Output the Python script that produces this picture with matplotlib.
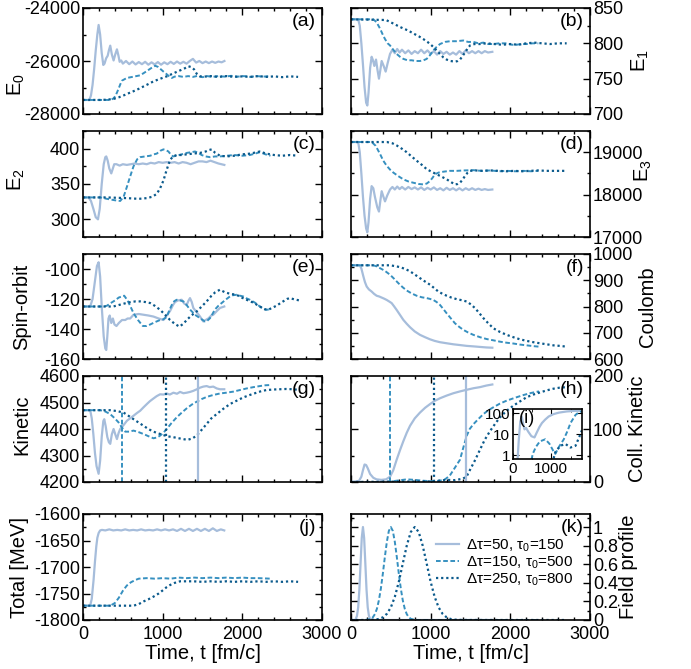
import matplotlib
matplotlib.use("Agg")
import matplotlib.pyplot as plt
from matplotlib.ticker import MultipleLocator, FormatStrFormatter, FuncFormatter, NullLocator

plt.rcParams["font.family"] = ["Liberation Sans", "DejaVu Sans"]
plt.rcParams["mathtext.fontset"] = "custom"
plt.rcParams["mathtext.rm"] = "Liberation Sans"
plt.rcParams["mathtext.it"] = "Liberation Sans:italic"
plt.rcParams["mathtext.default"] = "regular"
plt.rcParams["axes.unicode_minus"] = False

# ---- data (time in fm/c, value) ----
labels = ["Δτ=50, τ$_0$=150", "Δτ=150, τ$_0$=500", "Δτ=250, τ$_0$=800"]
t_markers = [1440, 490, 1045]  # solid, dashed, dotted vertical lines in (g), (h)

a_solid = [(0, -27470), (80, -27470), (100, -27300), (120, -26900), (140, -26300), (160, -25600),
           (180, -25000), (196, -24640), (215, -25000), (235, -25700), (255, -26150), (270, -26100),
           (290, -25900), (310, -25800), (325, -25600), (342, -25420), (362, -25750), (384, -25980),
           (405, -25750), (426, -25560), (445, -25800), (460, -26030), (480, -25980), (500, -26100),
           (540, -26000), (580, -26120), (620, -26020), (660, -26130), (700, -26040), (740, -26120),
           (780, -26030), (820, -26140), (860, -26050), (900, -26130), (940, -26040), (980, -26140),
           (1020, -26050), (1060, -26120), (1100, -26030), (1140, -26110), (1180, -26020), (1220, -26100),
           (1260, -26030), (1300, -26100), (1340, -26000), (1380, -25920), (1420, -26060), (1460, -26000),
           (1500, -26080), (1540, -26020), (1580, -26080), (1620, -26020), (1660, -26070), (1700, -26020),
           (1740, -26050), (1775, -26000)]
a_dash = [(0, -27470), (340, -27470), (380, -27420), (405, -27330), (425, -27200), (446, -27050),
          (468, -26880), (490, -26740), (550, -26640), (620, -26600), (718, -26540), (760, -26460),
          (801, -26380), (850, -26280), (905, -26180), (940, -26220), (968, -26290), (1010, -26400),
          (1051, -26500), (1090, -26600), (1114, -26640), (1150, -26590), (1200, -26570), (1260, -26600),
          (1320, -26570), (1380, -26600), (1440, -26560), (1500, -26610), (1560, -26570), (1620, -26600),
          (1700, -26570), (1780, -26590), (1860, -26560), (1940, -26590), (2020, -26570), (2100, -26600),
          (2180, -26570), (2260, -26590), (2353, -26570)]
a_dot = [(0, -27470), (220, -27470), (300, -27460), (384, -27430), (450, -27370), (509, -27300),
         (570, -27220), (634, -27140), (700, -27050), (760, -26960), (820, -26870), (884, -26770),
         (960, -26680), (1051, -26580), (1110, -26500), (1176, -26410), (1230, -26340), (1281, -26270),
         (1323, -26200), (1360, -26230), (1395, -26320), (1427, -26480), (1469, -26580), (1520, -26590),
         (1600, -26570), (1700, -26600), (1800, -26570), (1900, -26600), (2000, -26580), (2100, -26600),
         (2200, -26570), (2300, -26600), (2400, -26580), (2500, -26610), (2600, -26580), (2700, -26600)]

b_solid = [(0, 834), (90, 834), (110, 825), (130, 800), (150, 770), (170, 738), (190, 716), (205, 712),
           (220, 730), (240, 765), (259, 781), (276, 776), (293, 768), (314, 777), (333, 762), (351, 750),
           (368, 762), (385, 775), (410, 768), (435, 760), (460, 772), (490, 785), (520, 791), (550, 786),
           (580, 792), (610, 787), (640, 791), (680, 786), (720, 790), (760, 785), (800, 789), (840, 786),
           (880, 791), (920, 786), (960, 790), (1000, 785), (1040, 789), (1080, 784), (1120, 789),
           (1160, 785), (1200, 788), (1240, 784), (1280, 787), (1320, 784), (1360, 789), (1400, 785),
           (1440, 790), (1480, 786), (1520, 789), (1560, 786), (1600, 789), (1640, 786), (1680, 789),
           (1720, 787), (1774, 788)]
b_dash = [(0, 834), (280, 834), (320, 830), (364, 821), (400, 812), (427, 806), (460, 800), (490, 797),
          (530, 791), (573, 785), (615, 781), (657, 778), (710, 776), (762, 776), (815, 775), (866, 775),
          (910, 776), (950, 778), (990, 783), (1033, 790), (1075, 795), (1117, 799), (1180, 802),
          (1243, 803), (1320, 803), (1410, 804), (1470, 802), (1536, 802), (1600, 800), (1661, 801),
          (1720, 799), (1787, 799), (1860, 800), (1954, 800), (2020, 798), (2079, 798), (2140, 799),
          (2205, 799), (2280, 800), (2351, 800)]
b_dot = [(0, 834), (440, 833), (531, 828), (600, 824), (657, 821), (720, 818), (782, 814), (850, 810),
         (908, 806), (960, 802), (1013, 797), (1065, 791), (1117, 785), (1160, 780), (1201, 777),
         (1250, 775), (1305, 774), (1340, 775), (1368, 777), (1400, 782), (1431, 787), (1465, 793),
         (1494, 797), (1550, 799), (1619, 799), (1700, 800), (1800, 799), (1900, 798), (2000, 799),
         (2100, 798), (2200, 800), (2300, 801), (2400, 800), (2500, 799), (2600, 800), (2707, 800)]

c_solid = [(0, 331), (70, 331), (100, 326), (130, 315), (160, 303), (188, 300), (210, 315), (235, 350),
           (260, 378), (280, 388), (292, 389), (310, 383), (330, 372), (355, 365), (375, 372), (392, 378),
           (420, 378), (460, 376), (500, 378), (550, 377), (600, 378), (650, 379), (700, 378), (750, 379),
           (800, 378), (850, 380), (900, 379), (950, 381), (1000, 380), (1050, 381), (1100, 380),
           (1150, 381), (1200, 379), (1250, 381), (1300, 380), (1350, 378), (1400, 380), (1450, 382),
           (1500, 382), (1550, 381), (1600, 383), (1650, 381), (1700, 379), (1774, 377)]
c_dash = [(0, 331), (220, 331), (300, 329), (400, 327), (467, 326), (510, 332), (551, 346), (590, 360),
          (634, 375), (680, 385), (718, 388), (780, 389), (843, 390), (890, 392), (926, 393), (970, 397),
          (1010, 399), (1040, 398), (1072, 396), (1100, 392), (1130, 389), (1176, 390), (1240, 392),
          (1302, 394), (1360, 395), (1406, 396), (1450, 394), (1489, 391), (1540, 389), (1594, 388),
          (1660, 389), (1719, 389), (1800, 390), (1900, 391), (2000, 390), (2094, 391), (2160, 393),
          (2220, 395), (2290, 392), (2353, 390)]
c_dot = [(0, 331), (300, 331), (551, 330), (700, 329), (801, 330), (870, 332), (926, 336), (968, 344),
         (1010, 355), (1050, 370), (1093, 384), (1130, 389), (1176, 391), (1240, 391), (1302, 392),
         (1380, 393), (1469, 394), (1540, 396), (1580, 398), (1615, 399), (1660, 394), (1719, 390),
         (1800, 389), (1900, 390), (2000, 392), (2100, 393), (2220, 396), (2300, 393), (2400, 391),
         (2500, 390), (2600, 391), (2700, 390)]

d_solid = [(0, 19240), (90, 19240), (110, 19000), (130, 18500), (150, 17950), (170, 17500), (190, 17200),
           (205, 17110), (220, 17350), (240, 17900), (259, 18200), (280, 18150), (300, 17950), (330, 17700),
           (351, 17600), (368, 17850), (385, 18080), (405, 17960), (427, 17840), (455, 17980), (490, 18120),
           (520, 18180), (550, 18120), (580, 18190), (610, 18130), (640, 18180), (680, 18120), (720, 18180),
           (760, 18130), (800, 18170), (840, 18120), (880, 18170), (920, 18110), (960, 18160), (1000, 18120),
           (1040, 18170), (1080, 18110), (1120, 18150), (1160, 18100), (1200, 18160), (1240, 18110),
           (1280, 18150), (1320, 18100), (1360, 18150), (1400, 18100), (1440, 18150), (1480, 18110),
           (1520, 18150), (1560, 18110), (1600, 18140), (1640, 18110), (1680, 18130), (1720, 18110),
           (1774, 18120)]
d_dash = [(0, 19240), (260, 19240), (310, 19150), (364, 18960), (405, 18800), (448, 18680), (490, 18590),
          (531, 18520), (590, 18440), (657, 18360), (720, 18310), (782, 18280), (850, 18250), (908, 18240),
          (950, 18260), (992, 18320), (1025, 18400), (1054, 18480), (1100, 18520), (1159, 18540),
          (1240, 18560), (1326, 18560), (1420, 18570), (1536, 18576), (1640, 18560), (1750, 18570),
          (1860, 18550), (1960, 18560), (2060, 18550), (2160, 18560), (2260, 18550), (2351, 18560)]
d_dot = [(0, 19240), (450, 19240), (520, 19210), (573, 19160), (640, 19080), (699, 19000), (760, 18900),
         (824, 18800), (890, 18700), (950, 18600), (1010, 18540), (1075, 18480), (1140, 18420),
         (1201, 18360), (1260, 18290), (1305, 18240), (1340, 18250), (1368, 18280), (1400, 18350),
         (1431, 18440), (1465, 18520), (1494, 18560), (1560, 18570), (1650, 18560), (1750, 18570),
         (1850, 18560), (1950, 18550), (2050, 18560), (2150, 18550), (2250, 18560), (2350, 18570),
         (2450, 18560), (2550, 18560), (2707, 18560)]

e_solid = [(0, -125), (90, -125), (120, -120), (150, -108), (175, -98), (196, -95.5), (215, -105),
           (235, -125), (260, -145), (280, -153), (292, -154), (305, -145), (320, -133), (335, -131),
           (355, -136), (375, -133), (395, -137), (420, -138), (450, -136), (490, -134), (530, -134),
           (560, -133), (592, -133), (634, -130.5), (700, -130), (760, -130.5), (820, -131), (884, -131.7),
           (950, -133), (1010, -134), (1050, -131), (1093, -128), (1130, -124), (1156, -122), (1190, -121),
           (1239, -120.5), (1270, -123), (1302, -124), (1325, -121), (1343, -119.4), (1365, -122),
           (1385, -126), (1430, -129), (1469, -131.7), (1510, -135), (1540, -134), (1573, -133),
           (1610, -131), (1635, -130.5), (1680, -128), (1719, -126), (1773, -125)]
e_dash = [(0, -125), (260, -125), (300, -124.5), (340, -123), (400, -121), (450, -119), (517, -117.8),
          (560, -121), (600, -125.5), (634, -129.4), (690, -134), (751, -138), (800, -138), (843, -137),
          (900, -135.5), (968, -134), (1010, -133.5), (1051, -132), (1080, -128), (1114, -124),
          (1145, -121.5), (1176, -120.5), (1220, -121), (1260, -121.6), (1300, -124), (1343, -127),
          (1406, -130.5), (1469, -132.8), (1531, -135), (1560, -134.5), (1594, -132.8), (1625, -130),
          (1656, -127), (1700, -124.5), (1740, -122.7), (1790, -120.5), (1844, -118.3), (1880, -117.5),
          (1927, -117.2), (1970, -117.8), (2011, -118.3), (2050, -119.5), (2094, -120.5), (2160, -122.5),
          (2220, -125), (2260, -126.5), (2303, -127.2), (2353, -126.8)]
e_dot = [(0, -125), (380, -125), (450, -124), (520, -123), (600, -122), (660, -121.6), (718, -121.6),
         (780, -122), (843, -122.7), (900, -124.5), (968, -127.2), (1030, -130.5), (1093, -134),
         (1150, -136.5), (1210, -138.4), (1260, -136.5), (1302, -134), (1360, -131), (1427, -128.3),
         (1490, -125), (1552, -121.6), (1610, -118), (1660, -115.5), (1719, -113.8), (1780, -115.5),
         (1844, -116.5), (1927, -117.2), (1990, -119), (2053, -120.5), (2140, -122.5), (2220, -125),
         (2280, -126.8), (2324, -127.2), (2370, -126), (2428, -124.5), (2500, -122), (2560, -120),
         (2595, -119.4), (2650, -120.2), (2720, -121)]

f_solid = [(0, 957), (110, 957), (130, 945), (155, 915), (175, 893), (197, 876), (225, 865), (259, 857),
           (290, 848), (322, 841), (355, 838), (385, 834), (415, 830), (448, 825), (480, 819), (510, 813),
           (540, 801), (573, 787), (615, 768), (657, 749), (700, 734), (741, 721), (800, 705), (866, 692),
           (930, 683), (992, 675), (1050, 669), (1117, 664), (1200, 660), (1285, 656), (1370, 653),
           (1452, 650), (1540, 648), (1619, 646), (1700, 644), (1774, 643)]
f_dash = [(0, 957), (280, 957), (320, 953), (364, 946), (420, 937), (490, 921), (540, 906), (594, 889),
          (650, 873), (699, 861), (760, 850), (824, 841), (890, 835), (950, 832), (990, 829), (1033, 825),
          (1075, 817), (1117, 806), (1160, 790), (1201, 774), (1250, 756), (1305, 736), (1360, 722),
          (1410, 711), (1470, 701), (1536, 692), (1620, 683), (1703, 676), (1790, 671), (1870, 666),
          (1954, 662), (2038, 659), (2120, 655), (2205, 652), (2290, 649), (2360, 647)]
f_dot = [(0, 957), (490, 957), (550, 954), (615, 950), (680, 943), (741, 934), (800, 922), (866, 908),
         (930, 895), (992, 883), (1045, 870), (1096, 857), (1150, 848), (1201, 841), (1260, 834),
         (1326, 828), (1390, 824), (1452, 819), (1505, 808), (1556, 794), (1610, 775), (1661, 756),
         (1720, 737), (1787, 717), (1870, 703), (1954, 692), (2038, 683), (2121, 675), (2205, 669),
         (2289, 664), (2370, 660), (2456, 656), (2540, 652), (2620, 650), (2707, 647)]

g_solid = [(0, 4471), (90, 4471), (110, 4440), (130, 4380), (150, 4310), (170, 4260), (196, 4231),
           (215, 4280), (235, 4370), (255, 4430), (267, 4437), (285, 4410), (305, 4370), (325, 4350),
           (342, 4344), (362, 4380), (384, 4400), (405, 4380), (426, 4362), (447, 4385), (467, 4400),
           (510, 4415), (551, 4431), (590, 4440), (634, 4450), (676, 4460), (718, 4469), (760, 4482),
           (801, 4494), (840, 4505), (884, 4515), (925, 4524), (968, 4531), (1010, 4530), (1051, 4534),
           (1090, 4530), (1135, 4537), (1180, 4533), (1218, 4540), (1260, 4535), (1302, 4537),
           (1345, 4540), (1385, 4544), (1430, 4550), (1469, 4556), (1510, 4560), (1552, 4562),
           (1590, 4558), (1635, 4560), (1680, 4553), (1719, 4550), (1773, 4550)]
g_dash = [(0, 4471), (220, 4471), (280, 4466), (342, 4456), (400, 4440), (446, 4425), (490, 4405),
          (530, 4390), (580, 4390), (634, 4394), (700, 4388), (760, 4381), (820, 4373), (884, 4365),
          (930, 4368), (968, 4375), (1010, 4386), (1051, 4400), (1110, 4422), (1176, 4444), (1240, 4462),
          (1302, 4478), (1365, 4492), (1427, 4503), (1490, 4513), (1552, 4521), (1630, 4528),
          (1719, 4534), (1800, 4537), (1886, 4541), (1970, 4547), (2053, 4553), (2140, 4558),
          (2220, 4562), (2290, 4565), (2353, 4566)]
g_dot = [(0, 4471), (340, 4471), (420, 4468), (509, 4462), (570, 4450), (634, 4437), (700, 4424),
         (760, 4412), (820, 4400), (884, 4390), (950, 4383), (1010, 4377), (1070, 4372), (1135, 4369),
         (1220, 4364), (1310, 4359), (1370, 4364), (1427, 4375), (1490, 4397), (1552, 4419),
         (1610, 4440), (1677, 4456), (1760, 4476), (1844, 4494), (1930, 4507), (2011, 4519),
         (2090, 4528), (2178, 4537), (2240, 4543), (2303, 4547), (2390, 4549), (2470, 4550),
         (2550, 4551), (2637, 4550), (2720, 4547)]

h_solid = [(0, 0), (100, 2), (130, 10), (150, 22), (170, 33), (190, 32), (210, 26), (240, 15), (280, 8),
           (320, 5), (380, 4), (440, 5), (490, 10), (530, 22), (573, 42), (615, 60), (657, 77), (700, 93),
           (741, 106), (800, 120), (866, 131), (930, 140), (992, 147), (1050, 153), (1117, 158),
           (1200, 163), (1285, 167.5), (1370, 171), (1452, 174), (1540, 177), (1619, 179), (1700, 182),
           (1774, 184)]
h_dash = [(0, 0), (400, 0), (500, 1), (600, 3), (700, 5), (800, 4), (900, 2.5), (1000, 1.5), (1100, 2),
          (1180, 5), (1240, 12), (1300, 26), (1368, 42), (1410, 65), (1452, 87), (1490, 100), (1536, 109),
          (1600, 119), (1661, 128), (1720, 135), (1787, 141), (1870, 148), (1954, 153.5), (2060, 159),
          (2163, 164), (2260, 168), (2360, 171)]
h_dot = [(0, 0), (1000, 1.2), (1100, 2.5), (1200, 4), (1300, 3.5), (1400, 6), (1450, 10), (1494, 23),
         (1560, 42), (1619, 61), (1680, 80), (1745, 96), (1810, 110), (1870, 122), (1950, 134),
         (2038, 144), (2120, 152), (2205, 160), (2290, 165), (2372, 169), (2460, 173), (2540, 176),
         (2620, 178), (2707, 179)]

i_solid = [(110, 0.5), (123, 0.8), (150, 5), (190, 40), (228, 70), (260, 35), (300, 17), (340, 20),
           (400, 13), (480, 8), (561, 7), (620, 12), (690, 22), (754, 34), (840, 50), (930, 70),
           (1050, 90), (1193, 107), (1400, 122), (1600, 130), (1825, 133)]
i_dash = [(480, 0.6), (520, 1.2), (600, 2.5), (700, 4.5), (842, 5.7), (950, 3.5), (1050, 1.6),
          (1105, 1.15), (1200, 2.5), (1325, 5.7), (1420, 14), (1500, 34), (1632, 84), (1730, 115),
          (1825, 125)]
i_dot = [(1060, 0.7), (1105, 1.4), (1237, 2.8), (1368, 3.4), (1500, 2.3), (1632, 2.8), (1737, 8),
         (1825, 20)]

j_solid = [(0, -1773), (90, -1773), (110, -1760), (133, -1724), (150, -1690), (167, -1661), (180, -1645),
           (196, -1636), (215, -1631), (238, -1630), (280, -1631), (330, -1629), (380, -1631), (430, -1630),
           (480, -1631), (530, -1629), (580, -1631), (630, -1630), (680, -1631), (730, -1629), (780, -1631),
           (830, -1630), (880, -1631), (930, -1629), (980, -1631), (1030, -1629), (1080, -1631),
           (1130, -1629), (1180, -1632), (1230, -1628), (1280, -1632), (1330, -1628), (1380, -1632),
           (1430, -1628), (1480, -1632), (1530, -1628), (1580, -1632), (1630, -1627), (1680, -1632),
           (1730, -1629), (1773, -1631)]
j_dash = [(0, -1773), (342, -1773), (400, -1768), (450, -1758), (500, -1745), (550, -1735), (600, -1729),
          (650, -1725), (700, -1722), (800, -1721), (900, -1722), (1000, -1721), (1100, -1722),
          (1200, -1720), (1300, -1721), (1400, -1720), (1500, -1721), (1600, -1720), (1700, -1721),
          (1800, -1720), (1900, -1721), (2000, -1720), (2100, -1721), (2200, -1721), (2353, -1722)]
j_dot = [(0, -1773), (634, -1773), (700, -1770), (760, -1765), (820, -1761), (884, -1756), (950, -1750),
         (1010, -1743), (1050, -1738), (1093, -1734), (1150, -1730), (1218, -1727), (1300, -1727),
         (1385, -1727), (1500, -1728), (1600, -1727), (1700, -1728), (1800, -1727), (1900, -1728),
         (2000, -1727), (2100, -1728), (2200, -1727), (2300, -1728), (2400, -1727), (2500, -1728),
         (2600, -1727), (2700, -1728)]

k_solid = [(0, 0), (50, 0), (60, 0.011), (75, 0.044), (90, 0.135), (105, 0.325), (120, 0.607), (135, 0.882),
           (150, 1.0), (165, 0.882), (180, 0.607), (195, 0.325), (210, 0.135), (225, 0.044), (240, 0.011),
           (260, 0.001), (300, 0), (1775, 0)]
k_dash = [(0, 0), (150, 0), (200, 0.002), (250, 0.013), (275, 0.030), (300, 0.063), (325, 0.12),
          (350, 0.211), (375, 0.339), (400, 0.5), (425, 0.678), (450, 0.841), (475, 0.958), (500, 1.0),
          (525, 0.958), (550, 0.841), (575, 0.678), (600, 0.5), (625, 0.339), (650, 0.211), (675, 0.12),
          (700, 0.063), (725, 0.030), (750, 0.013), (800, 0.002), (850, 0), (2350, 0)]
k_dot = [(0, 0), (200, 0.0003), (300, 0.004), (350, 0.011), (400, 0.029), (450, 0.066), (500, 0.135),
         (550, 0.249), (600, 0.41), (650, 0.607), (700, 0.80), (750, 0.946), (800, 1.0), (850, 0.946),
         (900, 0.80), (950, 0.607), (1000, 0.41), (1050, 0.249), (1100, 0.135), (1150, 0.066),
         (1200, 0.029), (1250, 0.011), (1300, 0.004), (1400, 0.0003), (1500, 0), (2700, 0)]

# ---- styles ----
STYLES = [
    dict(color="#a6bddb", lw=1.6, ls="-"),
    dict(color="#3690c0", lw=1.4, ls=(0, (2.4, 1.3))),
    dict(color="#0b5a8c", lw=1.6, ls=(0, (1.0, 1.3))),
]

W, H = 691, 669
fig = plt.figure(figsize=(W / 100, H / 100), dpi=100)

rows = [(8, 114), (131, 237), (254, 359), (376, 482), (514, 620)]
cols = [(83, 322), (351, 590)]


def make_ax(row, col):
    y0, y1 = rows[row]
    x0, x1 = cols[col]
    return fig.add_axes([x0 / W, 1 - y1 / H, (x1 - x0) / W, (y1 - y0) / H])


def style_ax(ax, ylim, major, minor, side, bottom_labels=False):
    ax.set_xlim(0, 3000)
    ax.set_ylim(*ylim)
    ax.xaxis.set_major_locator(MultipleLocator(1000))
    ax.xaxis.set_minor_locator(MultipleLocator(200))
    ax.yaxis.set_major_locator(MultipleLocator(major))
    ax.yaxis.set_minor_locator(MultipleLocator(minor))
    ax.yaxis.set_major_formatter(FuncFormatter(lambda v, p: "%g" % round(v, 6)))
    ax.tick_params(which="both", direction="in", top=True, bottom=True, left=True, right=True,
                   labelsize=13, width=1.0)
    ax.tick_params(which="major", length=5)
    ax.tick_params(which="minor", length=2.5)
    ax.tick_params(axis="y", pad=2)
    ax.tick_params(axis="x", pad=4, labelbottom=bottom_labels)
    if side == "right":
        ax.tick_params(axis="y", labelleft=False, labelright=True)
        ax.yaxis.set_label_position("right")
    for sp in ax.spines.values():
        sp.set_linewidth(1.2)


def draw(ax, series):
    for pairs, st in zip(series, STYLES):
        t, v = zip(*pairs)
        ax.plot(t, v, **st)


def tag(ax, s):
    ax.text(0.975, 0.87, s, transform=ax.transAxes, ha="right", va="center", fontsize=14)


panels = [
    # row, col, series, ylim, major, minor, ylabel, label xy, tag
    (0, 0, [a_solid, a_dash, a_dot], (-28000, -24000), 2000, 1000, "E$_0$", (-0.236, 0.28), "(a)"),
    (0, 1, [b_solid, b_dash, b_dot], (700, 850), 50, 25, "E$_1$", (1.165, 0.5), "(b)"),
    (1, 0, [c_solid, c_dash, c_dot], (275, 425), 50, 25, "E$_2$", (-0.236, 0.54), "(c)"),
    (1, 1, [d_solid, d_dash, d_dot], (17000, 19500), 1000, 500, "E$_3$", (1.18, 0.63), "(d)"),
    (2, 0, [e_solid, e_dash, e_dot], (-160, -90), 20, 10, "Spin-orbit", (-0.218, 0.5), "(e)"),
    (2, 1, [f_solid, f_dash, f_dot], (600, 1000), 100, 50, "Coulomb", (1.2, 0.5), "(f)"),
    (3, 0, [g_solid, g_dash, g_dot], (4200, 4600), 100, 50, "Kinetic", (-0.215, 0.54), "(g)"),
    (3, 1, [h_solid, h_dash, h_dot], (0, 200), 100, 50, "Coll. Kinetic", (1.16, 0.5), "(h)"),
    (4, 0, [j_solid, j_dash, j_dot], (-1800, -1600), 50, 25, "Total [MeV]", (-0.228, 0.5), "(j)"),
    (4, 1, [k_solid, k_dash, k_dot], (0, 1.14), 0.2, 0.1, "Field profile", (1.12, 0.5), "(k)"),
]

axes = {}
for row, col, series, ylim, major, minor, ylabel, lxy, name in panels:
    ax = make_ax(row, col)
    side = "left" if col == 0 else "right"
    style_ax(ax, ylim, major, minor, side, bottom_labels=(row == 4))
    draw(ax, series)
    ax.set_ylabel(ylabel, fontsize=14.5)
    ax.yaxis.set_label_coords(*lxy)
    tag(ax, name)
    if row == 4:
        ax.set_xlabel("Time, t [fm/c]", fontsize=14.5, labelpad=1)
    axes[name] = ax

# vertical markers in (g) and (h)
for name in ["(g)", "(h)"]:
    for tm, st in zip(t_markers, STYLES):
        axes[name].axvline(tm, **st)

# legend in (k)
axk = axes["(k)"]
handles = axk.get_lines()[:3]
axk.legend(handles, labels, loc="upper left", bbox_to_anchor=(0.355, 0.78), frameon=False,
           fontsize=11, handlelength=1.5, handletextpad=0.5, labelspacing=0.05,
           borderpad=0, borderaxespad=0)

# inset (i)
ins = fig.add_axes([513 / W, 1 - 459 / H, 69 / W, 50 / H])
draw(ins, [i_solid, i_dash, i_dot])
ins.set_yscale("log")
ins.set_xlim(0, 1800)
ins.set_ylim(0.65, 160)
ins.xaxis.set_major_locator(MultipleLocator(1000))
ins.xaxis.set_minor_locator(MultipleLocator(500))
ins.yaxis.set_minor_locator(NullLocator())
ins.yaxis.set_major_formatter(FuncFormatter(lambda v, p: "%g" % v))
ins.tick_params(which="both", direction="in", top=True, right=True, labelsize=11, pad=2)
ins.tick_params(which="major", length=4)
ins.tick_params(which="minor", length=2)
for sp in ins.spines.values():
    sp.set_linewidth(1.2)
ins.text(0.08, 0.8, "(i)", transform=ins.transAxes, ha="left", va="center", fontsize=13)

fig.savefig("out.png", dpi=100)
